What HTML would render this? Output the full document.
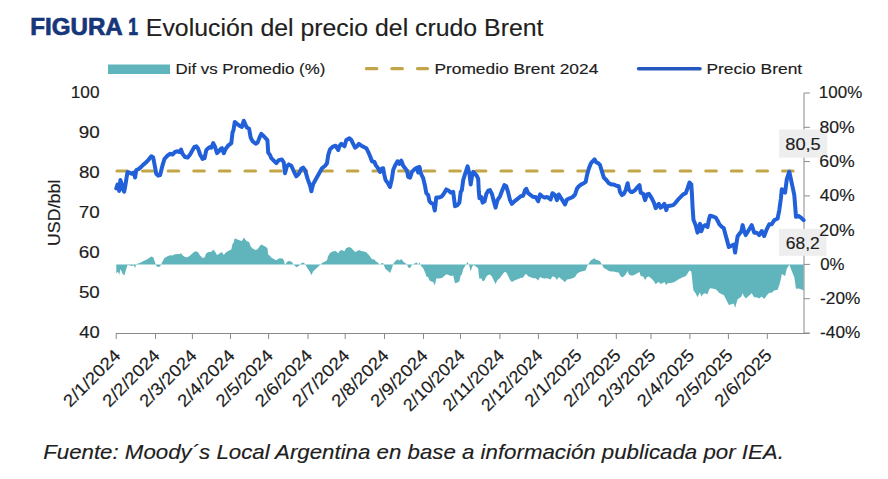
<!DOCTYPE html>
<html><head><meta charset="utf-8"><title>Figura 1</title>
<style>html,body{margin:0;padding:0;background:#fff;}svg{display:block;}</style>
</head><body>
<svg width="888" height="479" viewBox="0 0 888 479" font-family="Liberation Sans, Arial, sans-serif">
<rect width="888" height="479" fill="#fff"/>
<text x="30.24" y="35.40" textLength="92.51" lengthAdjust="spacingAndGlyphs" font-size="23.2" font-weight="bold" stroke="#16367a" stroke-width="0.7" fill="#16367a">FIGURA</text>
<text x="128.26" y="35.40" textLength="9.80" lengthAdjust="spacingAndGlyphs" font-size="23.2" font-weight="bold" stroke="#16367a" stroke-width="0.7" fill="#16367a">1</text>
<text x="145.89" y="35.60" textLength="397.55" lengthAdjust="spacingAndGlyphs" font-size="24.7" stroke="#202020" stroke-width="0.15" fill="#202020">Evolución del precio del crudo Brent</text>
<rect x="108" y="64.5" width="62" height="9.5" fill="#5fb5bb"/>
<text x="175.47" y="74.10" textLength="149.87" lengthAdjust="spacingAndGlyphs" font-size="15.2" stroke="#202020" stroke-width="0.15" fill="#202020">Dif vs Promedio (%)</text>
<rect x="364.8" y="67.1" width="13.6" height="3.2" rx="1.6" fill="#c1a546"/>
<rect x="390.3" y="67.1" width="13.6" height="3.2" rx="1.6" fill="#c1a546"/>
<rect x="415.9" y="67.1" width="13.2" height="3.2" rx="1.6" fill="#c1a546"/>
<text x="434.43" y="74.10" textLength="163.88" lengthAdjust="spacingAndGlyphs" font-size="15.2" stroke="#202020" stroke-width="0.15" fill="#202020">Promedio Brent 2024</text>
<line x1="638.6" y1="68.8" x2="700" y2="68.8" stroke="#2458bf" stroke-width="3.6" stroke-linecap="round"/>
<text x="706.43" y="74.10" textLength="95.73" lengthAdjust="spacingAndGlyphs" font-size="15.2" stroke="#202020" stroke-width="0.15" fill="#202020">Precio Brent</text>
<text x="70.75" y="98.40" textLength="28.71" lengthAdjust="spacingAndGlyphs" font-size="16.5" stroke="#202020" stroke-width="0.15" fill="#202020">100</text>
<text x="78.79" y="138.40" textLength="20.96" lengthAdjust="spacingAndGlyphs" font-size="16.5" stroke="#202020" stroke-width="0.15" fill="#202020">90</text>
<text x="78.91" y="178.40" textLength="20.84" lengthAdjust="spacingAndGlyphs" font-size="16.5" stroke="#202020" stroke-width="0.15" fill="#202020">80</text>
<text x="78.79" y="218.40" textLength="20.96" lengthAdjust="spacingAndGlyphs" font-size="16.5" stroke="#202020" stroke-width="0.15" fill="#202020">70</text>
<text x="78.79" y="258.40" textLength="20.96" lengthAdjust="spacingAndGlyphs" font-size="16.5" stroke="#202020" stroke-width="0.15" fill="#202020">60</text>
<text x="78.91" y="298.40" textLength="20.84" lengthAdjust="spacingAndGlyphs" font-size="16.5" stroke="#202020" stroke-width="0.15" fill="#202020">50</text>
<text x="79.25" y="338.40" textLength="20.47" lengthAdjust="spacingAndGlyphs" font-size="16.5" stroke="#202020" stroke-width="0.15" fill="#202020">40</text>
<g transform="translate(59.60,244.60) rotate(-90)"><text x="-1.41" y="0.00" textLength="66.43" lengthAdjust="spacingAndGlyphs" font-size="16.5" stroke="#202020" stroke-width="0.15" fill="#202020">USD/bbl</text></g>
<path d="M116.3,264.4 L116.3,273.7 L117.5,271.7 L118.8,273.3 L119.2,275.0 L120.4,269.2 L121.7,271.5 L122.5,273.7 L124.2,275.4 L125.4,271.9 L126.7,267.5 L127.5,265.0 L129.2,265.2 L131.7,265.9 L133.8,265.2 L135.1,267.9 L136.3,263.9 L138.4,263.5 L140.9,262.4 L143.4,261.0 L145.9,259.9 L148.0,258.8 L151.3,256.6 L153.2,257.2 L156.3,265.9 L158.2,266.9 L160.1,266.6 L162.6,261.3 L164.5,257.9 L167.5,256.3 L170.0,255.3 L172.5,255.6 L175.0,254.3 L177.5,253.9 L179.4,254.3 L181.0,253.0 L182.5,255.3 L185.0,257.0 L187.5,257.3 L190.1,255.6 L192.6,253.3 L194.4,251.7 L196.3,251.3 L198.2,252.6 L200.1,255.6 L202.6,258.0 L204.5,257.6 L206.3,253.3 L208.2,252.3 L210.1,251.7 L211.3,252.0 L213.2,249.6 L215.1,251.7 L217.0,255.0 L218.9,253.9 L220.7,252.6 L221.9,252.3 L223.8,255.0 L225.6,252.7 L228.1,251.0 L231.3,249.6 L232.5,244.0 L233.5,242.7 L234.8,238.3 L236.9,239.3 L239.4,240.3 L241.9,241.0 L243.8,237.6 L245.7,240.0 L246.9,241.3 L249.1,242.0 L250.7,246.6 L252.6,248.6 L255.7,249.9 L257.6,249.3 L259.5,246.6 L261.3,244.6 L263.2,245.6 L265.1,246.6 L267.4,248.0 L268.2,254.6 L270.1,256.0 L271.3,257.6 L273.8,258.9 L276.3,260.3 L278.8,258.6 L281.9,258.3 L283.8,260.0 L285.0,265.6 L286.9,261.9 L288.8,260.9 L291.3,261.6 L293.8,264.6 L296.3,267.3 L298.8,265.9 L301.3,263.3 L303.2,262.6 L305.1,263.9 L307.6,268.6 L310.1,272.3 L311.4,275.2 L313.2,271.3 L315.7,269.0 L318.9,265.9 L322.0,262.9 L325.1,261.6 L327.0,260.3 L328.2,256.0 L330.0,252.9 L332.5,251.6 L335.6,251.0 L338.2,253.3 L339.4,251.3 L341.3,249.9 L344.4,251.3 L346.3,247.9 L349.4,247.0 L351.3,247.9 L353.2,249.9 L355.1,252.0 L357.0,251.3 L358.8,249.9 L361.3,251.0 L363.8,251.6 L366.3,252.3 L368.2,254.3 L370.1,256.6 L372.0,259.3 L374.5,259.6 L375.7,261.3 L377.6,262.6 L380.1,265.0 L381.3,263.3 L383.1,262.9 L384.4,266.6 L385.6,269.3 L387.5,270.6 L390.0,272.9 L391.9,268.6 L393.2,263.9 L395.0,261.6 L397.5,259.3 L399.4,260.6 L401.3,258.9 L403.2,261.6 L405.1,262.9 L406.9,264.3 L408.2,267.6 L410.1,267.9 L411.9,264.9 L414.4,263.6 L417.0,262.6 L418.2,265.2 L419.5,262.2 L421.3,266.2 L423.2,268.3 L425.1,272.6 L426.3,276.2 L428.2,277.3 L429.5,280.6 L431.4,281.6 L433.2,281.9 L434.8,285.5 L436.3,278.6 L438.8,278.6 L441.9,277.9 L443.8,276.6 L446.3,274.2 L448.8,274.9 L450.7,275.9 L453.2,275.6 L455.0,283.2 L457.5,282.6 L459.4,281.3 L460.7,275.6 L461.9,274.6 L463.2,269.2 L465.1,265.9 L467.6,261.9 L469.4,265.9 L470.7,271.6 L472.0,267.3 L473.2,264.9 L475.1,265.9 L477.0,267.3 L478.2,268.6 L478.8,275.2 L479.5,278.9 L481.3,278.3 L482.6,281.3 L484.5,280.6 L486.4,276.6 L488.2,274.9 L490.0,274.6 L491.9,276.6 L493.8,280.6 L495.6,283.9 L497.5,279.9 L500.0,277.9 L501.9,275.2 L504.4,271.9 L506.3,272.6 L508.2,275.9 L510.0,279.9 L511.9,281.9 L514.4,280.6 L517.6,279.2 L520.7,277.9 L523.2,277.6 L525.1,274.6 L526.3,273.9 L528.2,276.2 L530.7,277.3 L533.2,278.3 L535.7,278.3 L538.2,280.6 L540.1,276.9 L542.0,277.9 L544.5,278.6 L547.0,278.3 L548.1,278.6 L550.6,279.6 L552.5,276.2 L555.0,277.3 L556.9,279.9 L558.8,276.9 L560.7,278.6 L563.2,280.6 L565.0,282.3 L566.9,279.6 L570.1,278.9 L572.6,278.3 L575.1,276.9 L576.9,273.9 L578.8,272.6 L581.3,271.6 L583.8,270.9 L585.7,270.2 L587.0,266.6 L588.8,263.3 L590.7,260.6 L592.6,259.3 L594.5,258.3 L596.4,259.9 L598.2,260.3 L600.0,261.2 L601.9,264.6 L603.8,267.9 L606.3,269.2 L608.8,270.9 L611.3,271.6 L613.8,271.6 L616.3,272.3 L618.8,272.6 L620.0,275.6 L621.9,277.3 L623.8,276.6 L625.7,274.6 L627.6,270.9 L628.8,274.2 L630.7,275.6 L632.6,275.6 L635.1,274.6 L637.6,272.9 L639.5,271.9 L640.7,275.9 L643.2,276.6 L645.1,279.9 L647.0,276.9 L648.9,276.6 L651.4,278.6 L653.9,281.3 L655.7,284.2 L657.6,282.6 L658.8,281.9 L660.6,283.9 L662.5,283.2 L664.4,281.9 L666.3,285.2 L667.5,283.2 L670.0,282.9 L673.2,282.6 L675.7,281.3 L678.2,279.5 L680.7,278.2 L683.2,276.9 L685.7,276.2 L687.6,273.6 L689.4,270.6 L691.3,271.6 L692.0,277.3 L692.6,283.9 L693.5,290.6 L695.6,293.2 L697.5,297.2 L698.8,294.6 L700.0,292.5 L701.3,296.5 L703.2,293.9 L705.0,293.2 L707.5,294.2 L708.8,290.6 L710.0,288.2 L712.5,288.5 L715.7,289.2 L717.6,290.9 L719.4,292.9 L721.9,294.2 L723.8,294.9 L725.1,297.5 L727.0,301.2 L728.8,304.9 L731.3,304.2 L733.8,303.6 L735.1,307.9 L736.4,303.2 L737.6,299.2 L739.5,297.9 L741.4,296.5 L742.6,293.2 L743.9,295.9 L745.7,298.6 L747.6,296.9 L751.7,293.3 L754.2,297.3 L756.7,297.3 L759.2,298.6 L761.7,296.4 L764.2,299.0 L766.7,295.5 L769.2,292.8 L771.7,292.8 L774.2,290.6 L777.6,289.7 L779.3,285.2 L780.9,279.0 L781.8,274.1 L785.1,275.9 L786.8,268.8 L789.3,264.8 L791.8,271.0 L794.3,277.3 L796.0,288.8 L798.5,288.4 L801.0,289.2 L803.6,290.6 L803.6,264.4 Z" fill="#5fb5bb"/>
<line x1="117" y1="171.0" x2="804.0" y2="171.0" stroke="#c1a546" stroke-width="3.1" stroke-linecap="round" stroke-dasharray="10.5 15.1"/>
<line x1="116" y1="333.5" x2="809.5" y2="333.5" stroke="#8a8a8a" stroke-width="1"/>
<line x1="116.2" y1="333.5" x2="116.2" y2="339" stroke="#8a8a8a" stroke-width="1"/>
<line x1="155.5" y1="333.5" x2="155.5" y2="339" stroke="#8a8a8a" stroke-width="1"/>
<line x1="192.4" y1="333.5" x2="192.4" y2="339" stroke="#8a8a8a" stroke-width="1"/>
<line x1="230.5" y1="333.5" x2="230.5" y2="339" stroke="#8a8a8a" stroke-width="1"/>
<line x1="268.6" y1="333.5" x2="268.6" y2="339" stroke="#8a8a8a" stroke-width="1"/>
<line x1="308.0" y1="333.5" x2="308.0" y2="339" stroke="#8a8a8a" stroke-width="1"/>
<line x1="345.2" y1="333.5" x2="345.2" y2="339" stroke="#8a8a8a" stroke-width="1"/>
<line x1="384.5" y1="333.5" x2="384.5" y2="339" stroke="#8a8a8a" stroke-width="1"/>
<line x1="423.5" y1="333.5" x2="423.5" y2="339" stroke="#8a8a8a" stroke-width="1"/>
<line x1="460.5" y1="333.5" x2="460.5" y2="339" stroke="#8a8a8a" stroke-width="1"/>
<line x1="499.9" y1="333.5" x2="499.9" y2="339" stroke="#8a8a8a" stroke-width="1"/>
<line x1="538.4" y1="333.5" x2="538.4" y2="339" stroke="#8a8a8a" stroke-width="1"/>
<line x1="577.4" y1="333.5" x2="577.4" y2="339" stroke="#8a8a8a" stroke-width="1"/>
<line x1="616.3" y1="333.5" x2="616.3" y2="339" stroke="#8a8a8a" stroke-width="1"/>
<line x1="651.0" y1="333.5" x2="651.0" y2="339" stroke="#8a8a8a" stroke-width="1"/>
<line x1="689.9" y1="333.5" x2="689.9" y2="339" stroke="#8a8a8a" stroke-width="1"/>
<line x1="728.4" y1="333.5" x2="728.4" y2="339" stroke="#8a8a8a" stroke-width="1"/>
<line x1="767.3" y1="333.5" x2="767.3" y2="339" stroke="#8a8a8a" stroke-width="1"/>
<line x1="804.0" y1="93" x2="804.0" y2="333.5" stroke="#8a8a8a" stroke-width="1"/>
<line x1="804.0" y1="93.0" x2="809.9" y2="93.0" stroke="#8a8a8a" stroke-width="1"/>
<line x1="804.0" y1="127.3" x2="809.9" y2="127.3" stroke="#8a8a8a" stroke-width="1"/>
<line x1="804.0" y1="161.6" x2="809.9" y2="161.6" stroke="#8a8a8a" stroke-width="1"/>
<line x1="804.0" y1="195.9" x2="809.9" y2="195.9" stroke="#8a8a8a" stroke-width="1"/>
<line x1="804.0" y1="230.1" x2="809.9" y2="230.1" stroke="#8a8a8a" stroke-width="1"/>
<line x1="804.0" y1="264.4" x2="809.9" y2="264.4" stroke="#8a8a8a" stroke-width="1"/>
<line x1="804.0" y1="298.7" x2="809.9" y2="298.7" stroke="#8a8a8a" stroke-width="1"/>
<line x1="804.0" y1="333.0" x2="809.9" y2="333.0" stroke="#8a8a8a" stroke-width="1"/>
<path d="M116.3,188.4 L117.5,184.6 L118.8,187.6 L119.2,190.9 L120.4,180.0 L121.7,184.2 L122.5,188.4 L124.2,191.7 L125.4,185.1 L126.7,176.7 L127.5,172.1 L129.2,172.5 L131.7,173.8 L133.8,172.5 L135.1,177.5 L136.3,170.0 L138.4,169.2 L140.9,167.1 L143.4,164.6 L145.9,162.5 L148.0,160.4 L151.3,156.3 L153.2,157.5 L156.3,173.8 L158.2,175.7 L160.1,175.1 L162.6,165.1 L164.5,158.8 L167.5,155.7 L170.0,153.8 L172.5,154.5 L175.0,152.0 L177.5,151.3 L179.4,152.0 L181.0,149.5 L182.5,153.8 L185.0,157.0 L187.5,157.6 L190.1,154.5 L192.6,150.1 L194.4,147.0 L196.3,146.3 L198.2,148.8 L200.1,154.5 L202.6,158.9 L204.5,158.2 L206.3,150.1 L208.2,148.2 L210.1,147.0 L211.3,147.6 L213.2,143.2 L215.1,147.0 L217.0,153.2 L218.9,151.3 L220.7,148.8 L221.9,148.2 L223.8,153.2 L225.6,148.9 L228.1,145.7 L231.3,143.2 L232.5,132.6 L233.5,130.1 L234.8,121.9 L236.9,123.8 L239.4,125.7 L241.9,126.9 L243.8,120.7 L245.7,125.1 L246.9,127.6 L249.1,128.8 L250.7,137.6 L252.6,141.3 L255.7,143.8 L257.6,142.6 L259.5,137.6 L261.3,133.8 L263.2,135.7 L265.1,137.6 L267.4,140.1 L268.2,152.6 L270.1,155.1 L271.3,158.2 L273.8,160.7 L276.3,163.2 L278.8,160.1 L281.9,159.4 L283.8,162.6 L285.0,173.2 L286.9,166.3 L288.8,164.4 L291.3,165.7 L293.8,171.3 L296.3,176.3 L298.8,173.8 L301.3,168.8 L303.2,167.6 L305.1,170.1 L307.6,178.9 L310.1,185.7 L311.4,191.3 L313.2,183.9 L315.7,179.5 L318.9,173.8 L322.0,168.2 L325.1,165.7 L327.0,163.2 L328.2,155.1 L330.0,149.4 L332.5,146.9 L335.6,145.7 L338.2,150.1 L339.4,146.3 L341.3,143.8 L344.4,146.3 L346.3,140.0 L349.4,138.2 L351.3,140.0 L353.2,143.8 L355.1,147.6 L357.0,146.3 L358.8,143.8 L361.3,145.7 L363.8,146.9 L366.3,148.2 L368.2,151.9 L370.1,156.3 L372.0,161.3 L374.5,162.0 L375.7,165.1 L377.6,167.6 L380.1,172.0 L381.3,168.8 L383.1,168.2 L384.4,175.1 L385.6,180.1 L387.5,182.6 L390.0,187.0 L391.9,178.8 L393.2,170.0 L395.0,165.7 L397.5,161.3 L399.4,163.8 L401.3,160.6 L403.2,165.7 L405.1,168.2 L406.9,170.7 L408.2,176.9 L410.1,177.6 L411.9,171.9 L414.4,169.4 L417.0,167.5 L418.2,172.5 L419.5,166.9 L421.3,174.4 L423.2,178.2 L425.1,186.3 L426.3,193.2 L428.2,195.1 L429.5,201.4 L431.4,203.2 L433.2,203.9 L434.8,210.5 L436.3,197.6 L438.8,197.6 L441.9,196.3 L443.8,193.8 L446.3,189.4 L448.8,190.7 L450.7,192.6 L453.2,191.9 L455.0,206.3 L457.5,205.1 L459.4,202.6 L460.7,191.9 L461.9,190.1 L463.2,180.0 L465.1,173.8 L467.6,166.3 L469.4,173.8 L470.7,184.4 L472.0,176.3 L473.2,171.9 L475.1,173.8 L477.0,176.3 L478.2,178.8 L478.8,191.3 L479.5,198.2 L481.3,197.0 L482.6,202.6 L484.5,201.4 L486.4,193.8 L488.2,190.7 L490.0,190.1 L491.9,193.8 L493.8,201.3 L495.6,207.6 L497.5,200.1 L500.0,196.3 L501.9,191.3 L504.4,185.1 L506.3,186.3 L508.2,192.6 L510.0,200.1 L511.9,203.8 L514.4,201.3 L517.6,198.8 L520.7,196.3 L523.2,195.7 L525.1,190.1 L526.3,188.8 L528.2,193.2 L530.7,195.1 L533.2,197.0 L535.7,197.0 L538.2,201.3 L540.1,194.4 L542.0,196.3 L544.5,197.6 L547.0,197.0 L548.1,197.6 L550.6,199.5 L552.5,193.2 L555.0,195.1 L556.9,200.1 L558.8,194.5 L560.7,197.6 L563.2,201.4 L565.0,204.5 L566.9,199.5 L570.1,198.2 L572.6,197.0 L575.1,194.5 L576.9,188.8 L578.8,186.3 L581.3,184.4 L583.8,183.2 L585.7,181.9 L587.0,175.1 L588.8,168.8 L590.7,163.8 L592.6,161.3 L594.5,159.4 L596.4,162.5 L598.2,163.2 L600.0,165.0 L601.9,171.3 L603.8,177.5 L606.3,180.0 L608.8,183.2 L611.3,184.4 L613.8,184.4 L616.3,185.7 L618.8,186.3 L620.0,191.9 L621.9,195.1 L623.8,193.8 L625.7,190.1 L627.6,183.2 L628.8,189.4 L630.7,191.9 L632.6,191.9 L635.1,190.1 L637.6,186.9 L639.5,185.1 L640.7,192.6 L643.2,193.8 L645.1,200.1 L647.0,194.5 L648.9,193.8 L651.4,197.6 L653.9,202.6 L655.7,208.2 L657.6,205.1 L658.8,203.8 L660.6,207.6 L662.5,206.3 L664.4,203.8 L666.3,210.1 L667.5,206.3 L670.0,205.7 L673.2,205.1 L675.7,202.6 L678.2,199.4 L680.7,196.9 L683.2,194.4 L685.7,193.2 L687.6,188.2 L689.4,182.5 L691.3,184.4 L692.0,195.1 L692.6,207.6 L693.5,220.1 L695.6,225.1 L697.5,232.6 L698.8,227.6 L700.0,223.8 L701.3,231.3 L703.2,226.3 L705.0,225.1 L707.5,227.0 L708.8,220.1 L710.0,215.7 L712.5,216.3 L715.7,217.5 L717.6,220.7 L719.4,224.4 L721.9,226.9 L723.8,228.2 L725.1,233.2 L727.0,240.1 L728.8,247.0 L731.3,245.7 L733.8,244.5 L735.1,252.6 L736.4,243.9 L737.6,236.3 L739.5,233.8 L741.4,231.3 L742.6,225.1 L743.9,230.1 L745.7,235.1 L747.6,231.9 L751.7,225.2 L754.2,232.7 L756.7,232.7 L759.2,235.2 L761.7,231.0 L764.2,236.0 L766.7,229.3 L769.2,224.3 L771.7,224.3 L774.2,220.2 L777.6,218.5 L779.3,210.1 L780.9,198.4 L781.8,189.2 L785.1,192.6 L786.8,179.2 L789.3,171.7 L791.8,183.4 L794.3,195.1 L796.0,216.8 L798.5,216.0 L801.0,217.6 L803.6,220.2" fill="none" stroke="#2160d8" stroke-width="4.0" stroke-linejoin="round" stroke-linecap="round"/>
<rect x="779.2" y="129.5" width="48" height="28.2" fill="#eeeeee"/>
<rect x="779" y="228.9" width="47.4" height="26.9" fill="#eeeeee"/>
<text x="818.87" y="98.40" textLength="43.35" lengthAdjust="spacingAndGlyphs" font-size="16.5" stroke="#202020" stroke-width="0.15" fill="#202020">100%</text>
<text x="819.45" y="132.69" textLength="35.21" lengthAdjust="spacingAndGlyphs" font-size="16.5" stroke="#202020" stroke-width="0.15" fill="#202020">80%</text>
<text x="819.34" y="166.97" textLength="35.32" lengthAdjust="spacingAndGlyphs" font-size="16.5" stroke="#202020" stroke-width="0.15" fill="#202020">60%</text>
<text x="819.78" y="201.26" textLength="34.88" lengthAdjust="spacingAndGlyphs" font-size="16.5" stroke="#202020" stroke-width="0.15" fill="#202020">40%</text>
<text x="819.34" y="235.54" textLength="35.32" lengthAdjust="spacingAndGlyphs" font-size="16.5" stroke="#202020" stroke-width="0.15" fill="#202020">20%</text>
<text x="820.19" y="269.83" textLength="24.27" lengthAdjust="spacingAndGlyphs" font-size="16.5" stroke="#202020" stroke-width="0.15" fill="#202020">0%</text>
<text x="820.07" y="304.11" textLength="40.28" lengthAdjust="spacingAndGlyphs" font-size="16.5" stroke="#202020" stroke-width="0.15" fill="#202020">-20%</text>
<text x="820.07" y="338.40" textLength="40.28" lengthAdjust="spacingAndGlyphs" font-size="16.5" stroke="#202020" stroke-width="0.15" fill="#202020">-40%</text>
<g transform="translate(121.20,357.00) rotate(-45)"><text x="-71.97" y="0.00" textLength="72.56" lengthAdjust="spacingAndGlyphs" font-size="17.3" stroke="#202020" stroke-width="0.15" fill="#202020">2/1/2024</text></g>
<g transform="translate(160.50,357.00) rotate(-45)"><text x="-71.97" y="0.00" textLength="72.56" lengthAdjust="spacingAndGlyphs" font-size="17.3" stroke="#202020" stroke-width="0.15" fill="#202020">2/2/2024</text></g>
<g transform="translate(197.40,357.00) rotate(-45)"><text x="-71.97" y="0.00" textLength="72.56" lengthAdjust="spacingAndGlyphs" font-size="17.3" stroke="#202020" stroke-width="0.15" fill="#202020">2/3/2024</text></g>
<g transform="translate(235.50,357.00) rotate(-45)"><text x="-71.97" y="0.00" textLength="72.56" lengthAdjust="spacingAndGlyphs" font-size="17.3" stroke="#202020" stroke-width="0.15" fill="#202020">2/4/2024</text></g>
<g transform="translate(273.60,357.00) rotate(-45)"><text x="-71.97" y="0.00" textLength="72.56" lengthAdjust="spacingAndGlyphs" font-size="17.3" stroke="#202020" stroke-width="0.15" fill="#202020">2/5/2024</text></g>
<g transform="translate(313.00,357.00) rotate(-45)"><text x="-71.97" y="0.00" textLength="72.56" lengthAdjust="spacingAndGlyphs" font-size="17.3" stroke="#202020" stroke-width="0.15" fill="#202020">2/6/2024</text></g>
<g transform="translate(350.20,357.00) rotate(-45)"><text x="-71.97" y="0.00" textLength="72.56" lengthAdjust="spacingAndGlyphs" font-size="17.3" stroke="#202020" stroke-width="0.15" fill="#202020">2/7/2024</text></g>
<g transform="translate(389.50,357.00) rotate(-45)"><text x="-71.97" y="0.00" textLength="72.56" lengthAdjust="spacingAndGlyphs" font-size="17.3" stroke="#202020" stroke-width="0.15" fill="#202020">2/8/2024</text></g>
<g transform="translate(428.50,357.00) rotate(-45)"><text x="-71.97" y="0.00" textLength="72.56" lengthAdjust="spacingAndGlyphs" font-size="17.3" stroke="#202020" stroke-width="0.15" fill="#202020">2/9/2024</text></g>
<g transform="translate(465.50,357.00) rotate(-45)"><text x="-78.12" y="0.00" textLength="78.70" lengthAdjust="spacingAndGlyphs" font-size="17.3" stroke="#202020" stroke-width="0.15" fill="#202020">2/10/2024</text></g>
<g transform="translate(504.90,357.00) rotate(-45)"><text x="-78.14" y="0.00" textLength="78.64" lengthAdjust="spacingAndGlyphs" font-size="17.3" stroke="#202020" stroke-width="0.15" fill="#202020">2/11/2024</text></g>
<g transform="translate(543.40,357.00) rotate(-45)"><text x="-78.12" y="0.00" textLength="78.70" lengthAdjust="spacingAndGlyphs" font-size="17.3" stroke="#202020" stroke-width="0.15" fill="#202020">2/12/2024</text></g>
<g transform="translate(582.40,357.00) rotate(-45)"><text x="-71.97" y="0.00" textLength="72.78" lengthAdjust="spacingAndGlyphs" font-size="17.3" stroke="#202020" stroke-width="0.15" fill="#202020">2/1/2025</text></g>
<g transform="translate(621.30,357.00) rotate(-45)"><text x="-71.97" y="0.00" textLength="72.78" lengthAdjust="spacingAndGlyphs" font-size="17.3" stroke="#202020" stroke-width="0.15" fill="#202020">2/2/2025</text></g>
<g transform="translate(656.00,357.00) rotate(-45)"><text x="-71.97" y="0.00" textLength="72.78" lengthAdjust="spacingAndGlyphs" font-size="17.3" stroke="#202020" stroke-width="0.15" fill="#202020">2/3/2025</text></g>
<g transform="translate(694.90,357.00) rotate(-45)"><text x="-71.97" y="0.00" textLength="72.78" lengthAdjust="spacingAndGlyphs" font-size="17.3" stroke="#202020" stroke-width="0.15" fill="#202020">2/4/2025</text></g>
<g transform="translate(733.40,357.00) rotate(-45)"><text x="-71.97" y="0.00" textLength="72.78" lengthAdjust="spacingAndGlyphs" font-size="17.3" stroke="#202020" stroke-width="0.15" fill="#202020">2/5/2025</text></g>
<g transform="translate(772.30,357.00) rotate(-45)"><text x="-71.97" y="0.00" textLength="72.78" lengthAdjust="spacingAndGlyphs" font-size="17.3" stroke="#202020" stroke-width="0.15" fill="#202020">2/6/2025</text></g>
<text x="785.22" y="150.00" textLength="35.57" lengthAdjust="spacingAndGlyphs" font-size="16.5" stroke="#202020" stroke-width="0.15" fill="#202020">80,5</text>
<text x="785.86" y="248.70" textLength="33.90" lengthAdjust="spacingAndGlyphs" font-size="16.5" stroke="#202020" stroke-width="0.15" fill="#202020">68,2</text>
<text x="43.16" y="459.30" textLength="740.68" lengthAdjust="spacingAndGlyphs" font-size="21.0" font-style="italic" stroke="#202020" stroke-width="0.15" fill="#202020">Fuente: Moody´s Local Argentina en base a información publicada por IEA.</text>
</svg>
</body></html>
